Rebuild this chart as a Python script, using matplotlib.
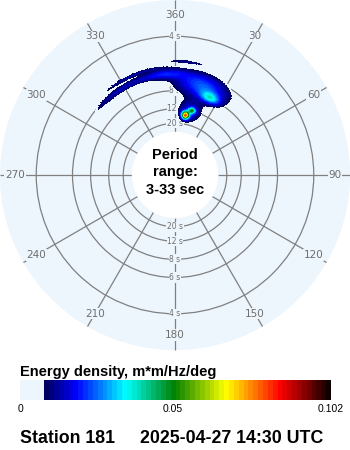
import numpy as np
import matplotlib
matplotlib.use("Agg")
import matplotlib.pyplot as plt
from matplotlib.patches import Circle
from matplotlib.colors import LinearSegmentedColormap, Normalize
from matplotlib.cm import ScalarMappable

plt.rcParams['font.family'] = ['Liberation Sans', 'DejaVu Sans']

# ---- data ----
station = "Station 181"
timestamp = "2025-04-27 14:30 UTC"
period_min, period_max = 3, 33
ring_periods = [4, 6, 8, 12, 20]
direction_ticks = [360, 30, 60, 90, 120, 150, 180, 210, 240, 270, 300, 330]
vmax = 0.102
threshold = 0.0069
cbar_ticks = [0, 0.05, 0.102]
cbar_ticklabels = ["0", "0.05", "0.102"]

# spectral components
#            red   green  cyan  body  arm   upArc loArc topArc halo
comp_dir = [9.5, 14.6, 24.5, 17.0, -6.0, -25.0, -33.0, 5.0, 13.0]           # deg
comp_period = [14.3, 11.9, 8.0, 6.9, 6.1, 5.55, 6.1, 5.2, 12.4]          # s
comp_dir_spread = [2.6, 2.2, 5.0, 13.0, 9.0, 14.0, 16.0, 7.8, 8.0]         # deg
comp_freq_spread = [0.0064, 0.0048, 0.0092, 0.0212, 0.009, 0.0035, 0.0069, 0.0030, 0.019]  # Hz
comp_amp = [0.070, 0.035, 0.025, 0.024, 0.014, 0.012, 0.014, 0.011, 0.017]

# ---- geometry ----
W, H = 350, 450
cx, cy = 175, 175
r0, k = 30.0, 435.0   # radius = r0 + k * frequency (pixels)
def rad(period):
    return r0 + k / np.asarray(period, dtype=float)
R_out = rad(period_min)
R_in = rad(period_max)

bg = '#edf5fd'
grid_c = '#808080'
lab_c = '#6e6e6e'

fig = plt.figure(figsize=(W / 100, H / 100), dpi=100)
ax = fig.add_axes([0, 0, 1, 1])
ax.set_xlim(0, W)
ax.set_ylim(H, 0)
ax.axis('off')

ax.add_patch(Circle((cx, cy), R_out, fc=bg, ec='none', zorder=0))

# rings
for T in ring_periods:
    ax.add_patch(Circle((cx, cy), rad(T), fill=False, ec=grid_c, lw=0.9, zorder=1))

# spokes
for d in direction_ticks:
    th = np.deg2rad(d)
    ax.plot([cx + R_in * np.sin(th), cx + R_out * np.sin(th)],
            [cy - R_in * np.cos(th), cy - R_out * np.cos(th)],
            color=grid_c, lw=0.9, zorder=1, solid_capstyle='butt')
    rl = 160
    ax.text(cx + rl * np.sin(th), cy - rl * np.cos(th), str(d), fontsize=7.5,
            color=lab_c, ha='center', va='center', zorder=1.5,
            family='DejaVu Sans',
            bbox=dict(fc=bg, ec='none', pad=0.6))

# spectrum colormap
t0 = (41 - 20) / 311.0
g = lambda x: t0 + x * (1 - t0)
cmap = LinearSegmentedColormap.from_list('wave', [
    (0.0, bg), (t0 - 1e-4, bg), (t0, '#000050'), (g(0.117), '#0000ff'),
    (g(0.29), '#00ffff'), (g(0.46), '#008000'), (g(0.64), '#ffff00'),
    (g(0.83), '#ff0000'), (1.0, '#100000')], N=64)
norm = Normalize(0, vmax)

dirs = np.linspace(-180, 180, 721)
freqs = np.linspace(1 / period_max, 1 / period_min, 400)
D, F = np.meshgrid(dirs, freqs)
Z = np.zeros_like(D)
for d0, p0, sd, sf, a in zip(comp_dir, comp_period, comp_dir_spread, comp_freq_spread, comp_amp):
    dd = (D - d0 + 180) % 360 - 180
    Z += a * np.exp(-0.5 * (dd / sd) ** 2 - 0.5 * ((F - 1 / p0) / sf) ** 2)
Z = np.ma.masked_less(Z, threshold)
Rg = r0 + k * F
X = cx + Rg * np.sin(np.deg2rad(D))
Y = cy - Rg * np.cos(np.deg2rad(D))
ax.pcolormesh(X, Y, Z[:-1, :-1], cmap=cmap, norm=norm, shading='flat', zorder=2,
              antialiased=False, rasterized=True)

# inner white disk
ax.add_patch(Circle((cx, cy), R_in, fc='white', ec='none', zorder=3))

# ring labels (under the spectrum)
for T in ring_periods:
    r = rad(T)
    for s in (-1, 1):
        ax.text(cx, cy + s * r, f"{T} s", fontsize=5.5, color=lab_c, ha='center',
                va='center', zorder=1.5, family='DejaVu Sans',
                bbox=dict(fc=bg, ec='none', pad=0.4))

# centre text
for txt, yb in zip(["Period", "range:", f"{period_min}-{period_max} sec"], [159, 176, 194]):
    ax.text(cx, yb, txt, fontsize=10.5, fontweight='bold', ha='center', va='baseline', zorder=7)

# colorbar
ax.text(20, 376, "Energy density, m*m/Hz/deg", fontsize=10.5, fontweight='bold',
        ha='left', va='baseline')
cax = fig.add_axes([20 / W, 1 - 400 / H, 311 / W, 20 / H])
cb = fig.colorbar(ScalarMappable(norm=norm, cmap=cmap), cax=cax, orientation='horizontal')
cb.outline.set_visible(False)
cb.set_ticks(cbar_ticks)
cb.set_ticklabels(cbar_ticklabels)
cax.tick_params(length=0, labelsize=7.5, pad=3)

ax.text(20, 443, station, fontsize=12.8, fontweight='bold', ha='left', va='baseline')
ax.text(140, 443, timestamp, fontsize=12.8, fontweight='bold', ha='left', va='baseline')

fig.savefig('out.png', dpi=100)
